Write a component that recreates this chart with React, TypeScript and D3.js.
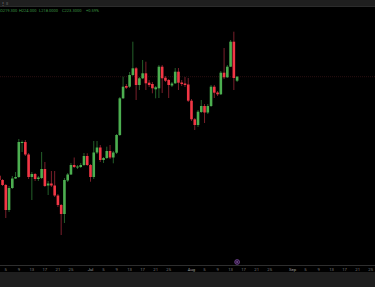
import React from "react";
import * as d3 from "d3";

const dates: string[] = [
  "2024-06-03","2024-06-04","2024-06-05","2024-06-06","2024-06-07","2024-06-08","2024-06-09","2024-06-10",
  "2024-06-11","2024-06-12","2024-06-13","2024-06-14","2024-06-15","2024-06-16","2024-06-17","2024-06-18",
  "2024-06-19","2024-06-20","2024-06-21","2024-06-22","2024-06-23","2024-06-24","2024-06-25","2024-06-26",
  "2024-06-27","2024-06-28","2024-06-29","2024-06-30","2024-07-01","2024-07-02","2024-07-03","2024-07-04",
  "2024-07-05","2024-07-06","2024-07-07","2024-07-08","2024-07-09","2024-07-10","2024-07-11","2024-07-12",
  "2024-07-13","2024-07-14","2024-07-15","2024-07-16","2024-07-17","2024-07-18","2024-07-19","2024-07-20",
  "2024-07-21","2024-07-22","2024-07-23","2024-07-24","2024-07-25","2024-07-26","2024-07-27","2024-07-28",
  "2024-07-29","2024-07-30","2024-07-31","2024-08-01","2024-08-02","2024-08-03","2024-08-04","2024-08-05",
  "2024-08-06","2024-08-07","2024-08-08","2024-08-09","2024-08-10","2024-08-11","2024-08-12","2024-08-13",
  "2024-08-14","2024-08-15",
];

const open: number[] = [
  124.3,120,115,90,112,121.5,123,157.5,
  158,145.5,123,126,121,122,131,114.5,
  116.5,114.5,104.5,95,86,119.5,125.5,135,
  132.5,133,135,144,135,123,147.5,152.5,
  140,142,149,142.5,147.3,165,201.7,214,
  213.3,225,231.7,215,221.7,226.7,217.3,216,
  210.7,211.7,233.3,222.3,220,214.5,216.7,228.3,
  217.5,216.5,215.5,199.3,180.7,175,188,194,
  187.5,194,213.3,207.5,205.7,227.3,222.7,233.3,
  258.3,219.3,
];
const high: number[] = [
  126,121,116,114,124,128,161,159.5,
  160,147,128,127,124,148,138,119,
  129,129,106,96,122,127,137,142.5,
  135,137,147,146.7,136,159,159,155,
  143,153.3,155,149,166,203,223.3,216,
  228,258.3,233,223,240,238.3,220,218,
  214,235,235,224,221,218,232,232,
  220,223,222,201,182,190,200,196,
  196,215,215,209,229,252,235,260,
  268.3,224,
];
const low: number[] = [
  119,114,82,88,111,121,122,148,
  144,121,100,119,119,121,113,105,
  113,103,93,65,77,118,125,132,
  131,132,134,134,118.3,121,146,138,
  137,141,141,136.7,146,164,201,211,
  212,224,200,210,221,210,213,206.7,
  201.7,202,207,218,202,213,216,210,
  214,213,198,179,170,173,187,177,
  186,193,202,204,205,221,222,233,
  210,218,
];
const close: number[] = [
  120,115,90,112,121.5,123,158,158,
  145.5,123,126,121,122.5,131,114,116.5,
  114.5,104.5,95,86,120,125.5,135,133,
  133.5,135,144,135,123,147.5,152.5,140,
  142,149,142.5,147.5,165,201.7,213.3,212.3,
  225,231.7,215,221.7,226.7,216.7,215,211.7,
  212.7,233.3,221.7,219.3,215,216.5,228.3,217.3,
  216,215,199.3,180.7,175,188.3,194,187.5,
  194,213.3,207.3,205.7,227.3,222.7,233.3,258.3,
  222,223.3,
];

const tickLabels: string[] = [
  "5","9","13","17","21","25","Jul","5","9","13","17","21","25",
  "Aug","5","9","13","17","21","25","Sep","5","9","13","17","21","25",
];
const tickDates: string[] = [
  "2024-06-05","2024-06-09","2024-06-13","2024-06-17","2024-06-21","2024-06-25","2024-07-01",
  "2024-07-05","2024-07-09","2024-07-13","2024-07-17","2024-07-21","2024-07-25",
  "2024-08-01","2024-08-05","2024-08-09","2024-08-13","2024-08-17","2024-08-21","2024-08-25",
  "2024-09-01","2024-09-05","2024-09-09","2024-09-13","2024-09-17","2024-09-21","2024-09-25",
];

const legendText: string[] = ["O219.300", "H224.000", "L218.0000", "C223.3000", "+0.59%"];
const eventDate = "2024-08-15";

const W = 375;
const H = 287;
const UP = "#4caf50";
const DOWN = "#f23645";
const UP_WICK = "#24602a";
const DOWN_WICK = "#7a1f2b";

const parse = (s: string) => d3.utcParse("%Y-%m-%d")(s) as Date;

export default function App() {
  const x = d3
    .scaleUtc()
    .domain([parse("2024-07-01"), parse("2024-08-01")])
    .range([90.5, 191.5]);
  const y = d3.scaleLinear().domain([60, 270]).range([240, 30]);
  const dayW = x(parse("2024-07-02")) - x(parse("2024-07-01"));
  const bw = dayW * 0.8;
  const lastClose = close[close.length - 1];

  return (
    <div style={{ position: "fixed", left: 0, top: 0, width: W, height: H, background: "#000" }}>
      <svg width={W} height={H} style={{ display: "block" }} fontFamily="Roboto, 'Liberation Sans', sans-serif">
        <rect x={0} y={0} width={W} height={H} fill="#000" />
        {/* top toolbar */}
        <rect x={0} y={0} width={W} height={6} fill="#1f1f1f" />
        <line x1={0} x2={W} y1={6.5} y2={6.5} stroke="#2c2c2c" strokeWidth={1} />
        <text x={1} y={4.6} fontSize={4} fill="#9a9a9a">⋮ ≡</text>
        {/* legend */}
        {legendText.map((t, i) => (
          <text key={i} x={[0, 19, 39, 62, 86][i]} y={11.5} fontSize={4} fill="#3a9440">
            {t}
          </text>
        ))}
        {/* last price line */}
        <line
          x1={0}
          x2={W}
          y1={y(lastClose)}
          y2={y(lastClose)}
          stroke="#3d1519"
          strokeWidth={0.7}
          strokeDasharray="1,1"
        />
        {/* candles */}
        {dates.map((d, i) => {
          const cx = x(parse(d));
          const up = close[i] >= open[i];
          const top = y(Math.max(open[i], close[i]));
          const bot = y(Math.min(open[i], close[i]));
          return (
            <g key={d}>
              <line
                x1={cx}
                x2={cx}
                y1={y(high[i])}
                y2={y(low[i])}
                stroke={up ? UP_WICK : DOWN_WICK}
                strokeWidth={1}
              />
              <rect
                x={cx - bw / 2}
                y={top}
                width={bw}
                height={Math.max(1, bot - top)}
                fill={up ? UP : DOWN}
              />
            </g>
          );
        })}
        {/* time axis */}
        <line x1={0} x2={W} y1={265.5} y2={265.5} stroke="#2e2e2e" strokeWidth={1} />
        {tickDates.map((d, i) => {
          const isMonth = isNaN(Number(tickLabels[i]));
          return (
            <text
              key={d}
              x={x(parse(d))}
              y={270.5}
              fontSize={4.2}
              textAnchor="middle"
              fill={isMonth ? "#a0a0a0" : "#7d7d7d"}
            >
              {tickLabels[i]}
            </text>
          );
        })}
        <rect x={0} y={272} width={W} height={H - 272} fill="#1e1e1e" />
        {/* event marker */}
        <circle cx={x(parse(eventDate))} cy={262} r={2.4} fill="#2a1538" stroke="#7b4aa0" strokeWidth={0.8} />
        <circle cx={x(parse(eventDate))} cy={262} r={0.8} fill="#9b6cc0" />
      </svg>
    </div>
  );
}
